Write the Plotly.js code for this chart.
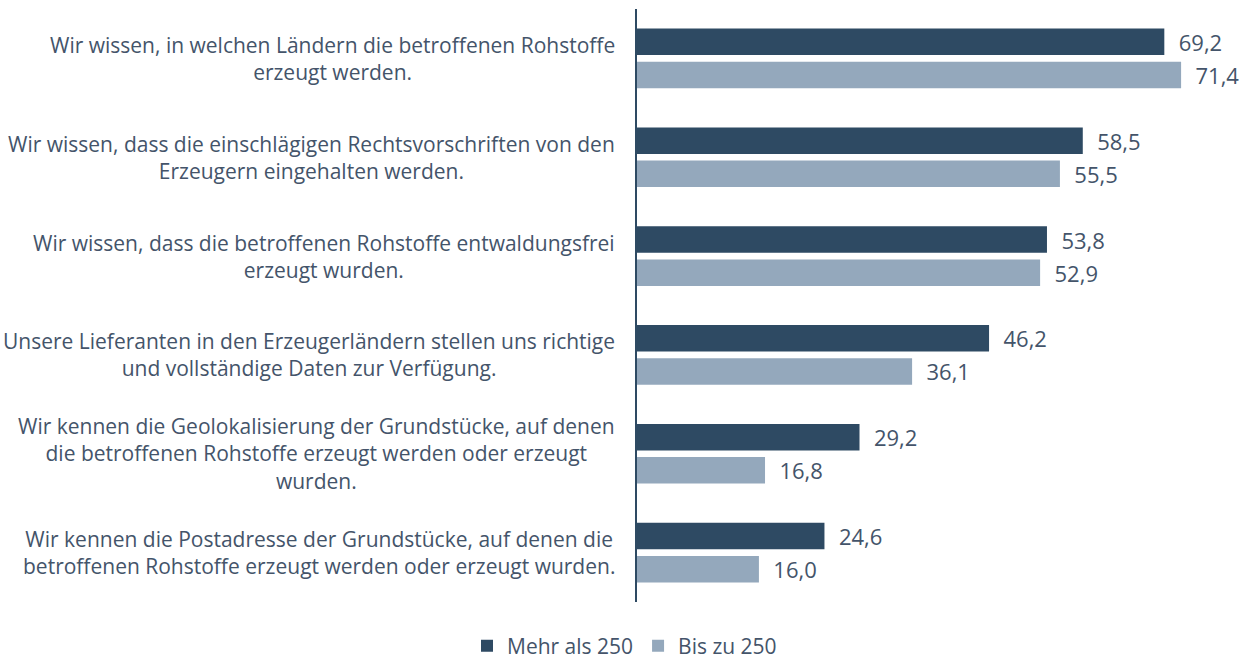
<!DOCTYPE html>
<html>
<head>
<meta charset="utf-8">
<script src="https://cdn.plot.ly/plotly-3.0.1.min.js"></script>
<style>html,body{margin:0;padding:0;background:#fff;}#chart{width:1249px;height:666px;}</style>
</head>
<body>
<div id="chart"></div>
<script>
const categories = [
  "Wir wissen, in welchen Ländern die betroffenen Rohstoffe<br>erzeugt werden.",
  "Wir wissen, dass die einschlägigen Rechtsvorschriften von den<br>Erzeugern eingehalten werden.",
  "Wir wissen, dass die betroffenen Rohstoffe entwaldungsfrei<br>erzeugt wurden.",
  "Unsere Lieferanten in den Erzeugerländern stellen uns richtige<br>und vollständige Daten zur Verfügung.",
  "Wir kennen die Geolokalisierung der Grundstücke, auf denen<br>die betroffenen Rohstoffe erzeugt werden oder erzeugt<br>wurden.",
  "Wir kennen die Postadresse der Grundstücke, auf denen die<br>betroffenen Rohstoffe erzeugt werden oder erzeugt wurden."
];
const seriesNames = ["Mehr als 250", "Bis zu 250"];
const mehrAls250 = [69.2, 58.5, 53.8, 46.2, 29.2, 24.6];
const bisZu250 = [71.4, 55.5, 52.9, 36.1, 16.8, 16.0];

const textColor = "#44546A";
const font = "'Open Sans', 'Noto Sans', sans-serif";

const mk = (name, vals, color) => ({
  type: "bar", orientation: "h", name: name,
  x: vals, y: categories,
  marker: {color: color},
  texttemplate: "\u00a0\u00a0%{x:.1f}",
  textposition: "outside",
  constraintext: "none",
  cliponaxis: false,
  textfont: {family: font, size: 22, color: textColor},
  hoverinfo: "skip"
});

const data = [
  mk(seriesNames[0], mehrAls250, "#2E4A63"),
  mk(seriesNames[1], bisZu250, "#94A8BC")
];

const annotations = categories.map(c => ({
  xref: "paper", yref: "y", x: 0, y: c,
  xanchor: "right", yanchor: "middle", xshift: -20,
  align: "center", showarrow: false,
  text: c, font: {family: font, size: 21, color: textColor}
}));

const layout = {
  width: 1249, height: 666,
  margin: {l: 637, r: 10, t: 9, b: 64},
  paper_bgcolor: "#fff", plot_bgcolor: "#fff",
  separators: ",.",
  barmode: "group", bargap: 0.33, bargroupgap: 0.2,
  showlegend: true,
  legend: {orientation: "h", xref: "container", yref: "container", x: 0.5, xanchor: "center", y: 0.03, yanchor: "middle",
    font: {family: font, size: 21, color: textColor}, traceorder: "normal", itemclick: false},
  xaxis: {range: [0, 79], visible: false, showgrid: false, zeroline: false, fixedrange: true},
  yaxis: {autorange: "reversed", showticklabels: false, ticks: "", showgrid: false, zeroline: false,
    showline: true, linecolor: "#2E4A63", linewidth: 2.5, fixedrange: true},
  annotations: annotations,
  font: {family: font, color: textColor}
};

Plotly.newPlot("chart", data, layout, {displayModeBar: false, staticPlot: true});
</script>
</body>
</html>
